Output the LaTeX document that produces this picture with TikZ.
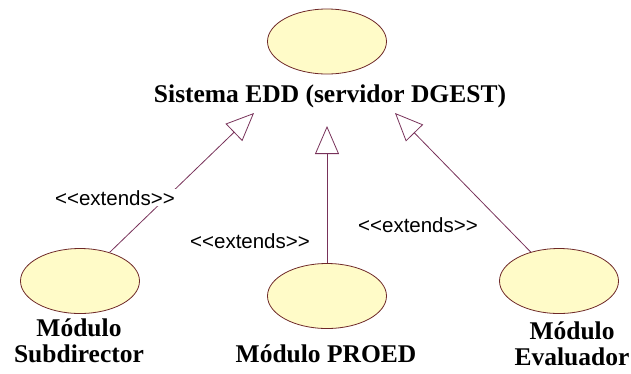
\documentclass[tikz,border=0pt]{standalone}
\usepackage{fontspec}
\setmainfont{Liberation Serif}
\newfontfamily\stereofont{Liberation Sans}
\usetikzlibrary{shapes.geometric,arrows.meta}

\definecolor{casefill}{RGB}{255,251,200}
\definecolor{caseline}{RGB}{110,40,40}
\definecolor{extline}{RGB}{120,50,90}

\begin{document}
\begin{tikzpicture}[x=1pt, y=-1pt,
	usecase/.style={draw=caseline, fill=casefill, ellipse, line width=0.8pt,
		minimum width=119pt, minimum height=65pt, inner sep=0pt},
	casetext/.style={font=\fontsize{25.5}{25.5}\selectfont\bfseries, align=center, inner sep=0pt},
	extends/.style={draw=extline, line width=0.8pt,
		-{Triangle[open, length=28pt, width=24pt]}},
	stereo/.style={font=\stereofont\fontsize{20.5}{22}\selectfont, fill=white,
		inner sep=1pt, anchor=base}]

	\useasboundingbox (0,0) rectangle (631,373);

	% Main system
	\node[usecase] (sys) at (327,41.5) {};
	\node[casetext, anchor=base] (systext) at (330,102) {Sistema EDD (servidor DGEST)};

	% Modules
	\node[usecase] (sub) at (80,281) {};
	\node[usecase] (proed) at (327,296) {};
	\node[usecase] (eval) at (559,281) {};

	\node[casetext, anchor=north] (subtext) at (79,319) {Módulo\\Subdirector};
	\node[casetext, anchor=base] (proedtext) at (326,362) {Módulo PROED};
	\node[casetext, anchor=north] (evaltext) at (572,322) {Módulo\\Evaluador};

	% Arrow tips under the system name
	\coordinate (tipsub) at (254,113);
	\coordinate (tipproed) at (327,126);
	\coordinate (tipeval) at (395,113);

	% Extends relations
	\draw[extends] (sub) -- (tipsub);
	\draw[extends] (proed) -- (tipproed);
	\draw[extends] (eval) -- (tipeval);

	% Stereotypes
	\node[stereo] (extsub) at (115,205) {<{}<extends>{}>};
	\node[stereo] (extproed) at (250,248) {<{}<extends>{}>};
	\node[stereo] (exteval) at (418,232) {<{}<extends>{}>};
\end{tikzpicture}
\end{document}
